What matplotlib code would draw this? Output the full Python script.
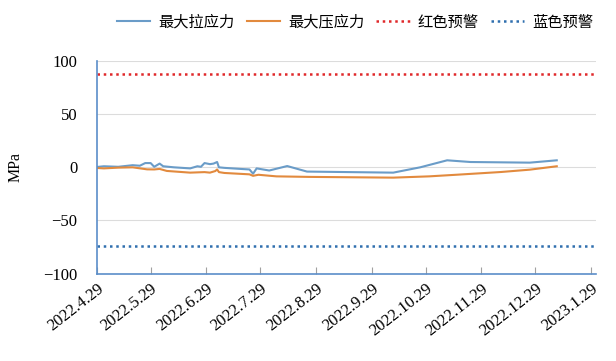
import pandas as pd
import matplotlib
matplotlib.use("Agg")
import matplotlib.pyplot as plt

# 最大拉应力
tens_dates = ["2022-04-29", "2022-05-03", "2022-05-11", "2022-05-19", "2022-05-23",
              "2022-05-26", "2022-05-29", "2022-05-31", "2022-06-03", "2022-06-05",
              "2022-06-11", "2022-06-20", "2022-06-24", "2022-06-26", "2022-06-28",
              "2022-07-01", "2022-07-03", "2022-07-05", "2022-07-06", "2022-07-09",
              "2022-07-18", "2022-07-23", "2022-07-25", "2022-07-27", "2022-08-03",
              "2022-08-13", "2022-08-24", "2022-10-11", "2022-10-26", "2022-11-10",
              "2022-11-23", "2022-12-26", "2023-01-10"]
tens_vals = [0.3, 1, 0.5, 2, 1.5, 4, 4, 0.5, 3.5, 1,
             0, -1, 1, 0.5, 4, 3, 3.5, 5, 0, -0.5,
             -1.5, -2, -6, -1, -3, 1.2, -4, -5, 0, 6.6,
             5, 4.4, 6.6]

# 最大压应力
comp_dates = ["2022-04-29", "2022-05-03", "2022-05-11", "2022-05-19", "2022-05-27",
              "2022-05-31", "2022-06-03", "2022-06-07", "2022-06-20", "2022-06-28",
              "2022-07-01", "2022-07-04", "2022-07-05", "2022-07-06", "2022-07-09",
              "2022-07-23", "2022-07-25", "2022-07-28", "2022-08-07", "2022-08-25",
              "2022-10-11", "2022-10-31", "2022-11-15", "2022-12-10", "2022-12-26",
              "2023-01-10"]
comp_vals = [-0.6, -1, -0.3, 0, -1.9, -2, -1.5, -3.4, -5, -4.5,
             -5, -3.5, -2, -4.5, -5.3, -6.6, -8, -7, -8.5, -9,
             -9.7, -8.5, -7, -4.4, -2.2, 1]

warn_dates = ["2022-04-29", "2023-02-01"]
red_warn = [88, 88]
blue_warn = [-74, -74]

tick_dates = ["2022-04-29", "2022-05-29", "2022-06-29", "2022-07-29", "2022-08-29",
              "2022-09-29", "2022-10-29", "2022-11-29", "2022-12-29", "2023-01-29"]
tick_labels = ["2022.4.29", "2022.5.29", "2022.6.29", "2022.7.29", "2022.8.29",
               "2022.9.29", "2022.10.29", "2022.11.29", "2022.12.29", "2023.1.29"]

plt.rcParams['font.family'] = ['Liberation Serif', 'Noto Sans CJK SC', 'DejaVu Sans']

fig = plt.figure(figsize=(6.16, 3.61), dpi=100)
ax = fig.add_axes([0.157, 0.242, 0.811, 0.589])

ax.plot(pd.to_datetime(tens_dates), tens_vals, color='#6a9cc8', lw=1.5, label='最大拉应力')
ax.plot(pd.to_datetime(comp_dates), comp_vals, color='#e28a3e', lw=1.5, label='最大压应力')
ax.plot(pd.to_datetime(warn_dates), red_warn, color='#e0282a', lw=1.8, ls=(0, (1, 1.5)), label='红色预警')
ax.plot(pd.to_datetime(warn_dates), blue_warn, color='#2f6fae', lw=1.8, ls=(0, (1, 1.5)), label='蓝色预警')

ax.set_xlim(pd.Timestamp("2022-04-29"), pd.Timestamp("2023-02-01"))
ax.set_ylim(-100, 100)
ax.set_yticks([-100, -50, 0, 50, 100])
ax.set_xticks(pd.to_datetime(tick_dates))
ax.set_xticklabels(tick_labels, rotation=38, ha='right', rotation_mode='anchor', fontsize=12)
ax.tick_params(axis='y', length=0, labelsize=12, pad=14)
ax.tick_params(axis='x', direction='in', length=5, color='#a0a0a0', pad=5)
ax.grid(axis='y', color='#dcdcdc', lw=0.8)
ax.set_axisbelow(True)
for s in ['top', 'right']:
    ax.spines[s].set_visible(False)
for s in ['left', 'bottom']:
    ax.spines[s].set_color('#5b8ec9')
    ax.spines[s].set_linewidth(1.2)
ax.set_ylabel('MPa', fontsize=11.5, labelpad=14)

fig.legend(loc='upper right', bbox_to_anchor=(0.985, 1.0), ncol=4, frameon=False,
           prop={'family': ['Noto Sans CJK SC'], 'size': 11},
           handlelength=2.2, handletextpad=0.5, columnspacing=0.8)

fig.savefig('out.png', dpi=100)
